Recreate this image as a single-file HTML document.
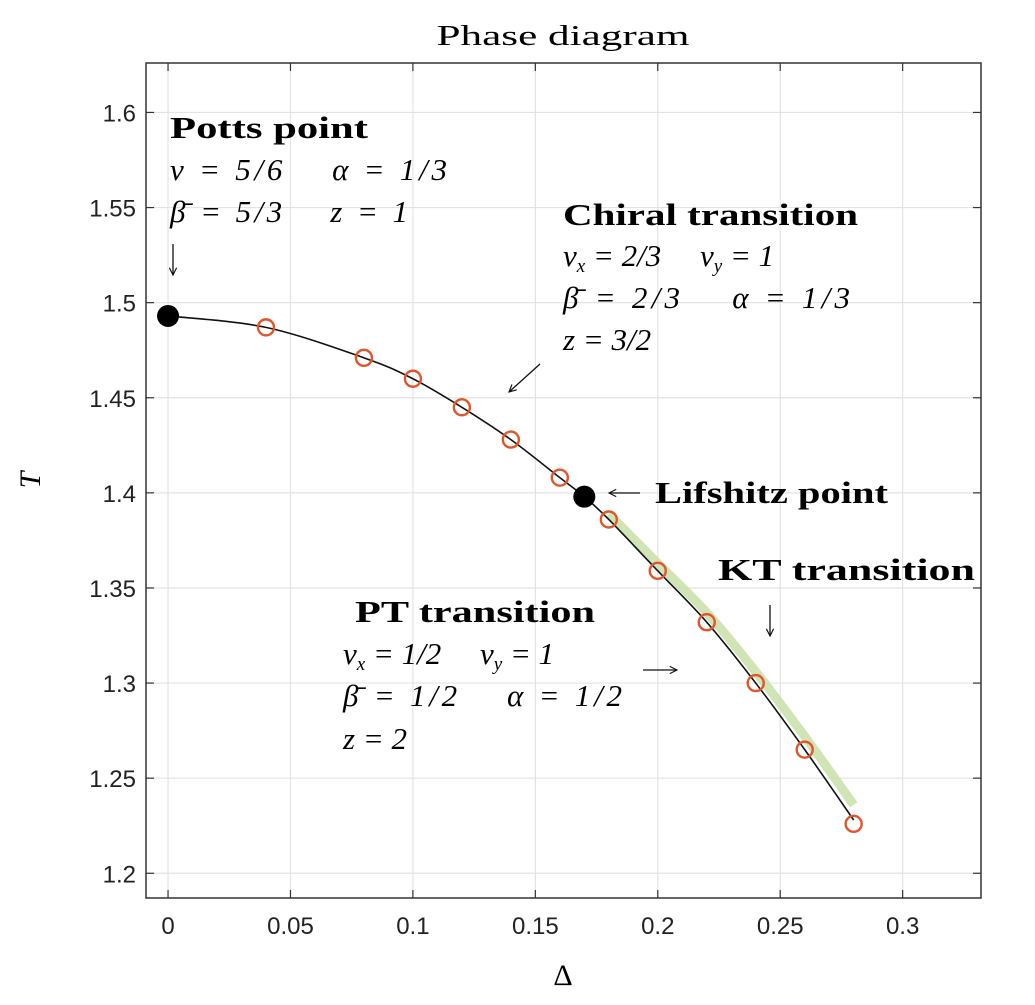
<!DOCTYPE html>
<html><head><meta charset="utf-8"><style>
body{margin:0;background:#fff;width:1035px;height:1000px;overflow:hidden}
svg text{font-family:"Liberation Serif",serif}
.tick{font-family:"Liberation Sans",sans-serif;font-size:24px;fill:#222}
.b{font-weight:bold;font-size:31px}
.m{font-size:31px;font-style:italic}
</style></head><body>
<svg id="chart" width="1035" height="1000" xmlns="http://www.w3.org/2000/svg">
<defs><marker id="ah" viewBox="0 0 10 10" refX="9" refY="5" markerWidth="9" markerHeight="9" orient="auto-start-reverse" markerUnits="userSpaceOnUse"><path d="M1,1 L9,5 L1,9" fill="none" stroke="#111" stroke-width="1.3"/></marker></defs>
<g id="grid"></g>
<g id="axes"></g>
<g id="marks"></g>
<text x="563" y="45" text-anchor="middle" font-size="28" textLength="253" lengthAdjust="spacingAndGlyphs" dx="0">Phase diagram</text>
<text x="563" y="985" text-anchor="middle" font-size="30">Δ</text>
<text x="40" y="480" text-anchor="middle" font-size="30" font-style="italic" transform="rotate(-90 40 480)">T</text>
<g>
<text class="b" x="170" y="138" textLength="198" lengthAdjust="spacingAndGlyphs">Potts point</text>
<text class="m" x="170" y="180" textLength="277" lengthAdjust="spacing">ν = 5/6 &#160;&#160; α = 1/3</text>
<text class="m" x="170" y="222" textLength="238" lengthAdjust="spacing">β̄ = 5/3 &#160;&#160; z = 1</text>
<line x1="173" y1="244" x2="173" y2="275" stroke="#111" stroke-width="1.3" marker-end="url(#ah)"/>
</g>
<g>
<text class="b" x="563" y="225" textLength="295" lengthAdjust="spacingAndGlyphs">Chiral transition</text>
<text class="m" x="563" y="266">ν<tspan font-size="19" dy="6">x</tspan><tspan dy="-6"> = 2/3 &#160;&#160;&#160; ν</tspan><tspan font-size="19" dy="6">y</tspan><tspan dy="-6"> = 1</tspan></text>
<text class="m" x="563" y="308" textLength="287" lengthAdjust="spacing">β̄ = 2/3 &#160;&#160; α = 1/3</text>
<text class="m" x="563" y="350">z = 3/2</text>
<line x1="540" y1="364" x2="509" y2="392" stroke="#111" stroke-width="1.3" marker-end="url(#ah)"/>
</g>
<g>
<line x1="640" y1="493" x2="609" y2="493" stroke="#111" stroke-width="1.3" marker-end="url(#ah)"/>
<text class="b" x="655" y="503" textLength="233" lengthAdjust="spacingAndGlyphs">Lifshitz point</text>
</g>
<g>
<text class="b" x="718" y="580" textLength="257" lengthAdjust="spacingAndGlyphs">KT transition</text>
<line x1="770" y1="605" x2="770" y2="636" stroke="#111" stroke-width="1.3" marker-end="url(#ah)"/>
</g>
<g>
<text class="b" x="355" y="622" textLength="240" lengthAdjust="spacingAndGlyphs">PT transition</text>
<text class="m" x="343" y="664">ν<tspan font-size="19" dy="6">x</tspan><tspan dy="-6"> = 1/2 &#160;&#160;&#160; ν</tspan><tspan font-size="19" dy="6">y</tspan><tspan dy="-6"> = 1</tspan></text>
<text class="m" x="343" y="706" textLength="279" lengthAdjust="spacing">β̄ = 1/2 &#160;&#160; α = 1/2</text>
<text class="m" x="343" y="749">z = 2</text>
<line x1="643" y1="670" x2="677" y2="670" stroke="#111" stroke-width="1.3" marker-end="url(#ah)"/>
</g>
</svg>
<script>
const xTicks=[0,0.05,0.1,0.15,0.2,0.25,0.3];
const xTickLabels=["0","0.05","0.1","0.15","0.2","0.25","0.3"];
const yTicks=[1.2,1.25,1.3,1.35,1.4,1.45,1.5,1.55,1.6];
const yTickLabels=["1.2","1.25","1.3","1.35","1.4","1.45","1.5","1.55","1.6"];
const deltaVals=[0.04,0.08,0.1,0.12,0.14,0.16,0.18,0.2,0.22,0.24,0.26,0.28];
const tVals=[1.487,1.471,1.460,1.445,1.428,1.408,1.386,1.359,1.332,1.300,1.265,1.226];
const specialDelta=[0,0.17];
const specialT=[1.493,1.398];
const curveDelta=[0,0.04,0.08,0.1,0.12,0.14,0.16,0.17,0.18,0.2,0.22,0.24,0.26,0.28];
const curveT=[1.493,1.487,1.471,1.460,1.445,1.428,1.408,1.398,1.386,1.359,1.332,1.300,1.265,1.228];
const ktDelta=[0.18,0.2,0.22,0.24,0.26,0.28];
const ktT=[1.389,1.363,1.337,1.306,1.272,1.236];

const L=146,R=981,T=63,B=898,x0=-0.009,x1=0.332,y0=1.187,y1=1.626;
const sx=v=>L+(v-x0)/(x1-x0)*(R-L);
const sy=v=>B-(v-y0)/(y1-y0)*(B-T);
const NS="http://www.w3.org/2000/svg";
function mk(tag,parent,attrs){const e=document.createElementNS(NS,tag);for(const k in attrs)e.setAttribute(k,attrs[k]);parent.appendChild(e);return e;}
const grid=document.getElementById('grid'),axes=document.getElementById('axes'),marks=document.getElementById('marks');
xTicks.forEach((v,i)=>{
 const g=mk('line',grid,{x1:sx(v),x2:sx(v),y1:T,y2:B,stroke:'#e3e3e3','stroke-width':1.2});
 
 
 mk('line',axes,{x1:sx(v),x2:sx(v),y1:B,y2:B-8,stroke:'#333','stroke-width':1.2});
 mk('line',axes,{x1:sx(v),x2:sx(v),y1:T,y2:T+8,stroke:'#333','stroke-width':1.2});
 const t=mk('text',axes,{x:sx(v),y:B+36,'text-anchor':'middle',class:'tick'});t.textContent=xTickLabels[i];
 
 
});
yTicks.forEach((v,i)=>{
 const g=mk('line',grid,{x1:L,x2:R,y1:sy(v),y2:sy(v),stroke:'#e3e3e3','stroke-width':1.2});
 
 
 mk('line',axes,{x1:L,x2:L+8,y1:sy(v),y2:sy(v),stroke:'#333','stroke-width':1.2});
 mk('line',axes,{x1:R,x2:R-8,y1:sy(v),y2:sy(v),stroke:'#333','stroke-width':1.2});
 const t=mk('text',axes,{x:L-10,y:sy(v)+9,'text-anchor':'end',class:'tick'});t.textContent=yTickLabels[i];
 
 
});
const box=mk('rect',axes,{x:L,y:T,width:R-L,height:B-T,fill:'none',stroke:'#333','stroke-width':1.5});


function smooth(xs,ys){const p=xs.map((v,i)=>[sx(v),sy(ys[i])]);let d='M'+p[0];for(let i=0;i<p.length-1;i++){const a=p[i-1]||p[i],b=p[i],c=p[i+1],e=p[i+2]||c;d+=' C'+(b[0]+(c[0]-a[0])/6)+','+(b[1]+(c[1]-a[1])/6)+' '+(c[0]-(e[0]-b[0])/6)+','+(c[1]-(e[1]-b[1])/6)+' '+c[0]+','+c[1];}return d;}
const band=mk('path',marks,{d:smooth(ktDelta,ktT),fill:'none',stroke:'#c8dfa8','stroke-width':9,'stroke-linecap':'butt',opacity:0.85});


const curve=mk('path',marks,{d:smooth(curveDelta,curveT),fill:'none',stroke:'#111','stroke-width':1.6});


deltaVals.forEach((v,i)=>{
 const c=mk('circle',marks,{cx:sx(v),cy:sy(tVals[i]),r:8,fill:'none',stroke:'#e0562a','stroke-width':2.4});
 
 
});
specialDelta.forEach((v,i)=>{
 const c=mk('circle',marks,{cx:sx(v),cy:sy(specialT[i]),r:11,fill:'#000'});
 
 
});
</script>
</body></html>
